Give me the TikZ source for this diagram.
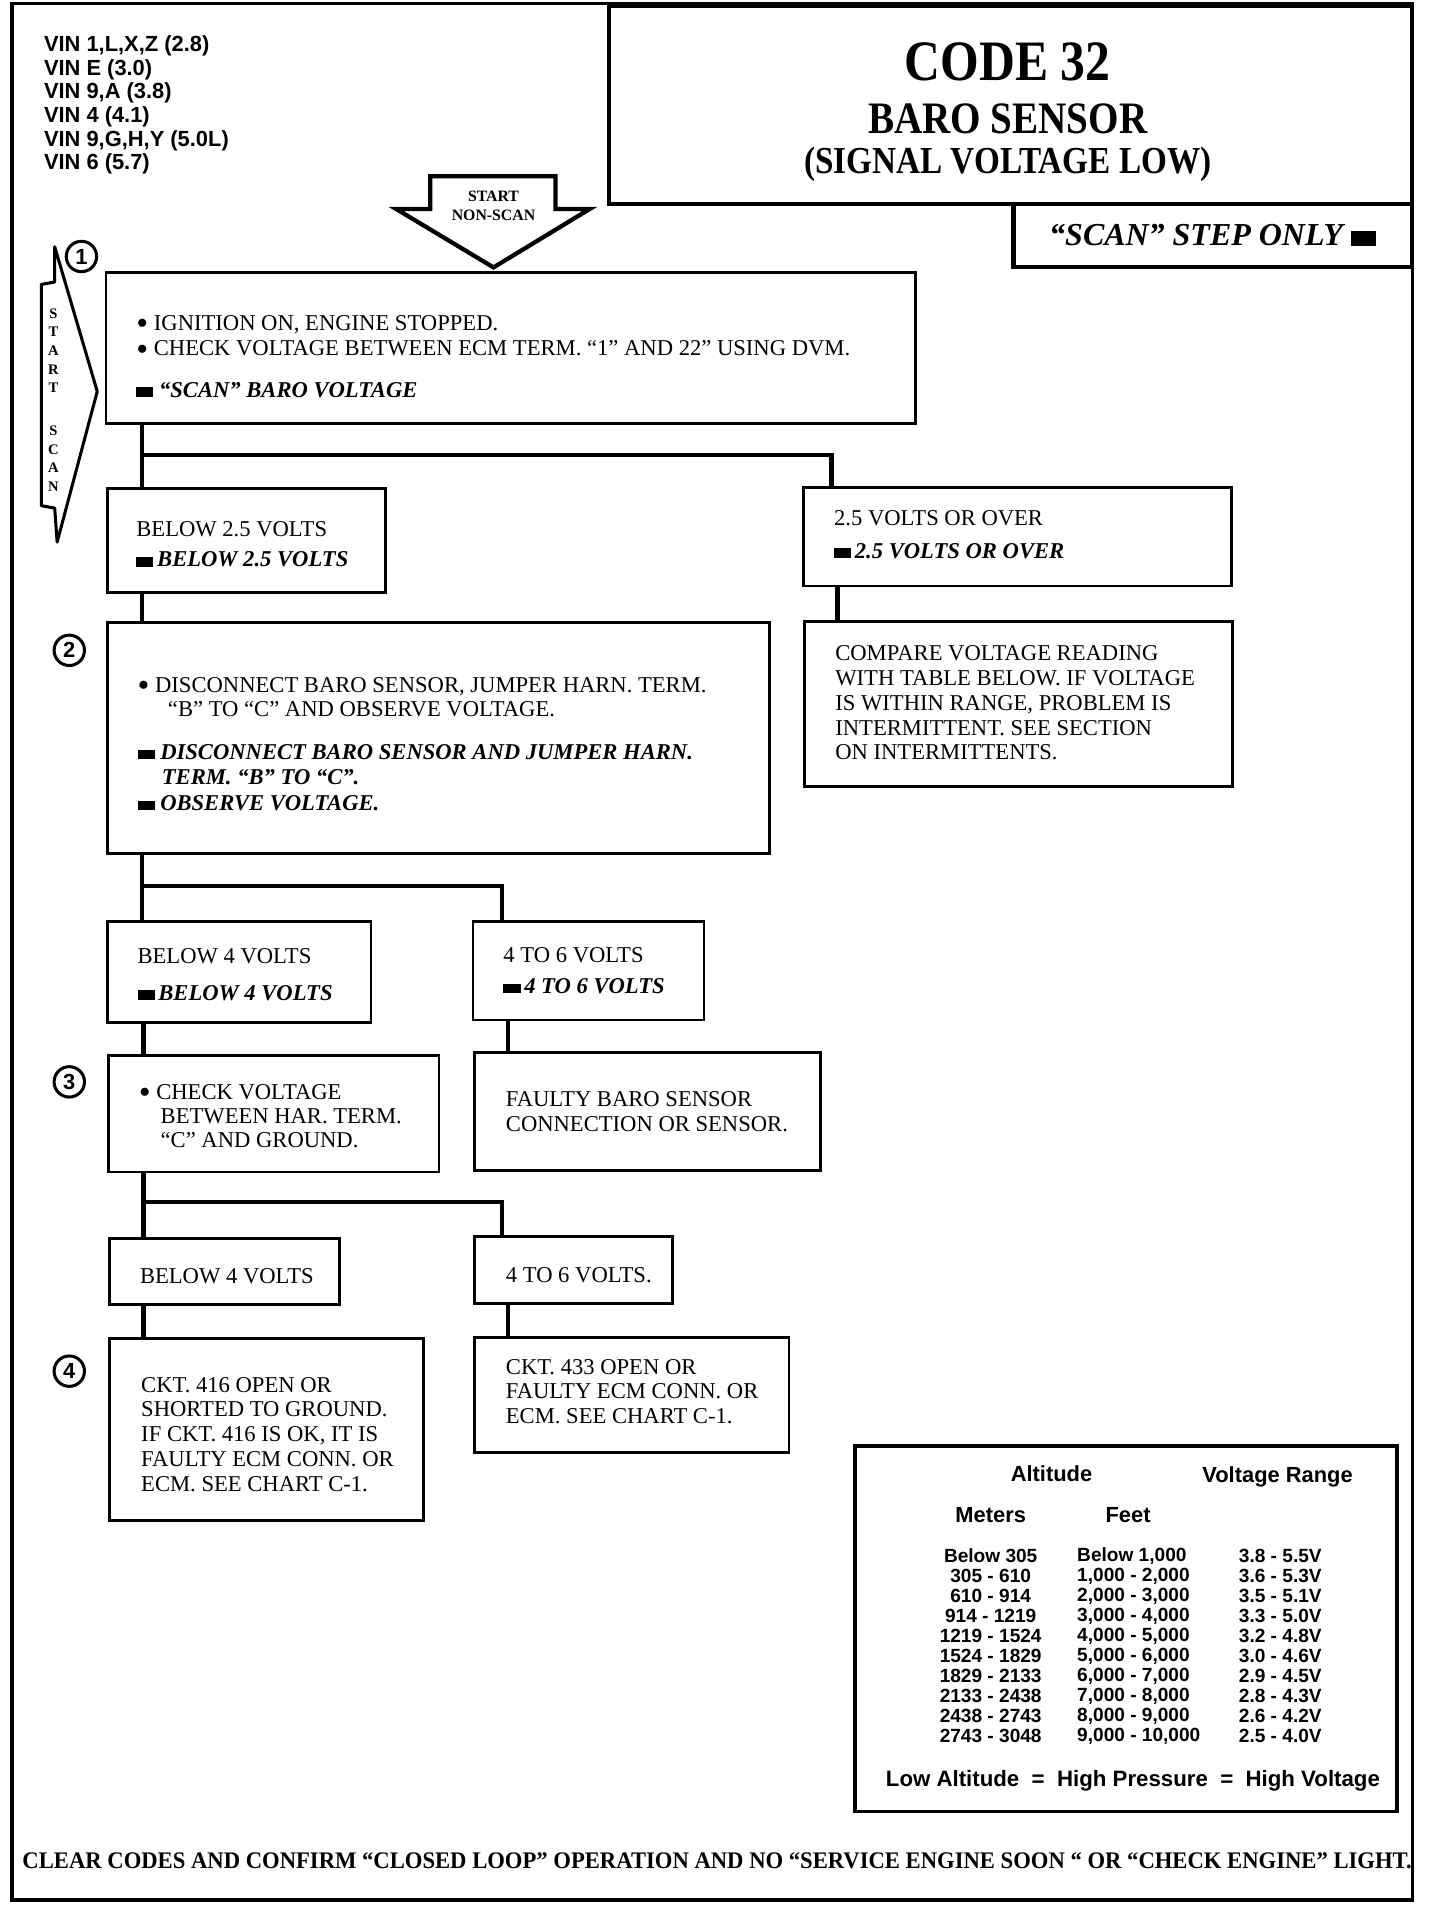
\documentclass[tikz,border=0pt]{standalone}
\usepackage{fontspec}
\usepackage{graphicx}
\setmainfont{Liberation Serif}
\newfontfamily\hv{Liberation Sans}
\newfontfamily\ttl[FakeStretch=0.87]{Liberation Serif}
\newcommand{\sqb}{\rule{14pt}{8pt}}
\newcommand{\bul}{\raisebox{-3.5pt}[0pt][0pt]{\scalebox{1.5}{\textbullet}}}
\newcommand{\bodyfnt}{\fontsize{18.6}{20}\selectfont}
\newcommand{\bi}{\bfseries\itshape}
\begin{document}
\begin{tikzpicture}[x=1pt,y=-1pt,
  box/.style={draw, line width=2.3pt, anchor=north west, inner sep=0pt},
  txt/.style={anchor=west, align=left, inner sep=0pt, font=\bodyfnt},
  conn/.style={line width=3.4pt},
  num/.style={circle, draw, line width=2.5pt, minimum size=25pt, inner sep=0pt, font=\hv\bfseries\fontsize{18}{18}\selectfont},
  hvb/.style={inner sep=0pt, font=\hv\bfseries\fontsize{18}{18}\selectfont},
  row/.style={inner sep=0pt, font=\hv\bfseries\fontsize{15.7}{16.45}\selectfont}]
\useasboundingbox (0,0) rectangle (1185,1568);
\fill[white] (0,0) rectangle (1185,1568);
% outer frame
\draw[line width=3pt] (10,3) rectangle (1162,1563);
% title
\node[box, line width=3.5pt, minimum width=661pt, minimum height=163pt] (titlebox) at (499,3) {};
\node[inner sep=0pt, font=\ttl\bfseries\fontsize{47}{47}\selectfont] (t1) at (829,51) {CODE 32};
\node[inner sep=0pt, font=\ttl\bfseries\fontsize{37}{37}\selectfont] (t2) at (829,98) {BARO SENSOR};
\node[inner sep=0pt, font=\ttl\bfseries\fontsize{31.4}{31.4}\selectfont] (t3) at (829,135) {(SIGNAL VOLTAGE LOW)};
\node[box, line width=3.5pt, minimum width=328pt, minimum height=52pt, font=\bi\fontsize{26.3}{26}\selectfont] (scanbox) at (832,166) {“SCAN” STEP ONLY \rule{21pt}{12pt}};
% VIN list
\node[anchor=north west, align=left, inner sep=0pt, font=\hv\bfseries\fontsize{18}{19.5}\selectfont] (vin) at (36,29) {VIN 1,L,X,Z (2.8)\\VIN E (3.0)\\VIN 9,A (3.8)\\VIN 4 (4.1)\\VIN 9,G,H,Y (5.0L)\\VIN 6 (5.7)};
% start non-scan arrow
\draw[line width=3.5pt, line join=miter] (354,145) -- (457,145) -- (457,172) -- (485,172) -- (406,220) -- (326,172) -- (354,172) -- cycle;
\node[align=center, inner sep=0pt, font=\bfseries\fontsize{13}{15.5}\selectfont] (ns) at (406,169) {START\\NON-SCAN};
% start scan arrow
\draw[line width=2.5pt, line join=round] (45,203) -- (80,322) -- (47,446) -- (45,418) -- (34,416) -- (34,234) -- (45,232) -- cycle;
\node[align=center, inner sep=0pt, font=\bfseries\fontsize{12}{15.3}\selectfont] (ss) at (44,329) {S\\T\\A\\R\\T\\[20pt]S\\C\\A\\N};
% step numbers
\node[num] (n1) at (67,211) {1};
\node[num] (n2) at (57,535) {2};
\node[num] (n3) at (57,890) {3};
\node[num] (n4) at (57,1128) {4};
% boxes
\node[box, minimum width=666pt, minimum height=124pt] (b1) at (86,223) {};
\node[txt] (b1t) at ([xshift=26pt,yshift=-7pt]b1.west) {\bul\ IGNITION ON, ENGINE STOPPED.\\[1pt]\bul\ CHECK VOLTAGE BETWEEN ECM TERM. “1” AND 22” USING DVM.\\[14pt]{\bi\sqb\ “SCAN” BARO VOLTAGE}};
\node[box, minimum width=229pt, minimum height=85pt] (b25) at (87,401) {};
\node[txt] (b25t) at ([xshift=25pt,yshift=-3pt]b25.west) {BELOW 2.5 VOLTS\\[5pt]{\bi\sqb\,BELOW 2.5 VOLTS}};
\node[box, minimum width=352pt, minimum height=81pt] (o25) at (660,400) {};
\node[txt] (o25t) at ([xshift=26pt,yshift=2pt]o25.west) {2.5 VOLTS OR OVER\\[7pt]{\bi\sqb\,2.5 VOLTS OR OVER}};
\node[box, minimum width=545pt, minimum height=190pt] (b2) at (87,511) {};
\node[txt] (b2t) at ([xshift=26pt,yshift=-5pt]b2.west) {\bul\ DISCONNECT BARO SENSOR, JUMPER HARN. TERM.\\\hspace*{25pt}“B” TO “C” AND OBSERVE VOLTAGE.\\[15pt]{\bi\sqb\ DISCONNECT BARO SENSOR AND JUMPER HARN.}\\[1pt]{\bi\hspace*{20pt}TERM. “B” TO “C”.}\\[1pt]{\bi\sqb\ OBSERVE VOLTAGE.}};
\node[box, minimum width=352pt, minimum height=136pt] (cmp) at (661,510) {};
\node[txt, font=\fontsize{18.6}{20.5}\selectfont] (cmpt) at ([xshift=26pt,yshift=1pt]cmp.west) {COMPARE VOLTAGE READING\\WITH TABLE BELOW. IF VOLTAGE\\IS WITHIN RANGE, PROBLEM IS\\INTERMITTENT. SEE SECTION\\ON INTERMITTENTS.};
\node[box, minimum width=217pt, minimum height=83pt] (b4a) at (87,757) {};
\node[txt] (b4at) at ([xshift=26pt,yshift=-2pt]b4a.west) {BELOW 4 VOLTS\\[10pt]{\bi\sqb\,BELOW 4 VOLTS}};
\node[box, minimum width=190pt, minimum height=81pt] (t46a) at (388,757) {};
\node[txt] (t46at) at ([xshift=26pt]t46a.west) {4 TO 6 VOLTS\\[5pt]{\bi\sqb\,4 TO 6 VOLTS}};
\node[box, minimum width=272pt, minimum height=96pt] (b3) at (88,867) {};
\node[txt] (b3t) at ([xshift=26pt,yshift=-2pt]b3.west) {\bul\ CHECK VOLTAGE\\\hspace*{18pt}BETWEEN HAR. TERM.\\\hspace*{18pt}“C” AND GROUND.};
\node[box, minimum width=285pt, minimum height=97pt] (fb) at (389,865) {};
\node[txt] (fbt) at ([xshift=27pt]fb.west) {FAULTY BARO SENSOR\\CONNECTION OR SENSOR.};
\node[box, minimum width=189pt, minimum height=54pt] (b4b) at (89,1018) {};
\node[txt] (b4bt) at ([xshift=26pt,yshift=-4pt]b4b.west) {BELOW 4 VOLTS};
\node[box, minimum width=163pt, minimum height=55pt] (t46b) at (389,1016) {};
\node[txt] (t46bt) at ([xshift=27pt,yshift=-4pt]t46b.west) {4 TO 6 VOLTS.};
\node[box, minimum width=258pt, minimum height=150pt] (b4) at (89,1100) {};
\node[txt, font=\fontsize{18.6}{20.5}\selectfont] (b4t) at ([xshift=27pt,yshift=-4pt]b4.west) {CKT. 416 OPEN OR\\SHORTED TO GROUND.\\IF CKT. 416 IS OK, IT IS\\FAULTY ECM CONN. OR\\ECM. SEE CHART C-1.};
\node[box, minimum width=259pt, minimum height=95pt] (c433) at (389,1099) {};
\node[txt] (c433t) at ([xshift=27pt,yshift=3pt]c433.west) {CKT. 433 OPEN OR\\FAULTY ECM CONN. OR\\ECM. SEE CHART C-1.};
% connectors
\coordinate (x1) at (117,374);
\coordinate (x2) at (684,374);
\coordinate (x3) at (117,729);
\coordinate (x4) at (413,729);
\coordinate (x5) at (118,0);
\coordinate (x6) at (418,0);
\coordinate (x7) at (118,989);
\coordinate (x8) at (413,989);
\coordinate (o2) at (689,0);
\draw[conn] (b1.south -| x1) -- (b25.north -| x1);
\draw[conn] (x1) -- (x2) -- (o25.north -| x2);
\draw[conn] (b25.south -| x1) -- (b2.north -| x1);
\draw[conn] (o25.south -| o2) -- (cmp.north -| o2);
\draw[conn] (b2.south -| x3) -- (b4a.north -| x3);
\draw[conn] (x3) -- (x4) -- (t46a.north -| x4);
\draw[conn] (b4a.south -| x5) -- (b3.north -| x5);
\draw[conn] (t46a.south -| x6) -- (fb.north -| x6);
\draw[conn] (b3.south -| x7) -- (b4b.north -| x7);
\draw[conn] (x7) -- (x8) -- (t46b.north -| x8);
\draw[conn] (b4b.south -| x5) -- (b4.north -| x5);
\draw[conn] (t46b.south -| x6) -- (c433.north -| x6);
% table
\node[box, line width=2.8pt, minimum width=446pt, minimum height=301pt] (tbl) at (702,1188) {};
\node[hvb] (alt) at (865,1212) {Altitude};
\node[hvb] (vr) at (1051,1215) {Voltage Range};
\node[hvb] (met) at (815,1246) {Meters};
\node[hvb] (ft) at (928,1246) {Feet};
\node[row, align=center] (colm) at (815,1354) {Below 305\\305 - 610\\610 - 914\\914 - 1219\\1219 - 1524\\1524 - 1829\\1829 - 2133\\2133 - 2438\\2438 - 2743\\2743 - 3048};
\node[row, align=left, anchor=west] (colf) at (886,1354) {Below 1,000\\1,000 - 2,000\\2,000 - 3,000\\3,000 - 4,000\\4,000 - 5,000\\5,000 - 6,000\\6,000 - 7,000\\7,000 - 8,000\\8,000 - 9,000\\9,000 - 10,000};
\node[row, align=left, anchor=west] (colv) at (1019,1354) {3.8 - 5.5V\\3.6 - 5.3V\\3.5 - 5.1V\\3.3 - 5.0V\\3.2 - 4.8V\\3.0 - 4.6V\\2.9 - 4.5V\\2.8 - 4.3V\\2.6 - 4.2V\\2.5 - 4.0V};
\node[inner sep=0pt, font=\hv\bfseries\fontsize{18.3}{18}\selectfont] (law) at (932,1465) {Low Altitude \ = \ High Pressure \ = \ High Voltage};
% footer
\node[inner sep=0pt] (foot) at (590,1531) {\resizebox{1143pt}{13pt}{\bfseries CLEAR CODES AND CONFIRM “CLOSED LOOP” OPERATION AND NO “SERVICE ENGINE SOON “ OR “CHECK ENGINE” LIGHT.}};
\end{tikzpicture}
\end{document}
